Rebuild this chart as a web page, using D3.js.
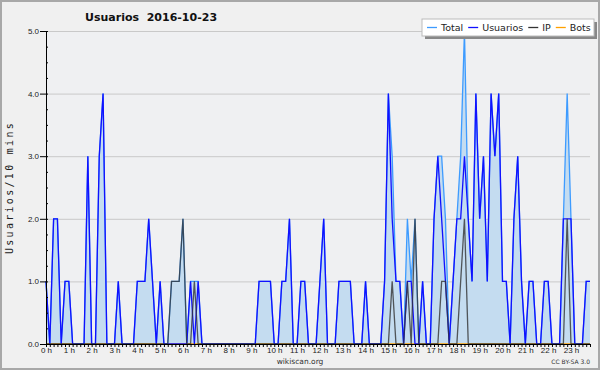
<!DOCTYPE html>
<html lang="es">
<head>
  <meta charset="UTF-8">
  <title>Usuarios 2016-10-23</title>
  <script src="https://d3js.org/d3.v7.min.js"></script>
  <style type="text/css">
    body { margin: 0; background: #f0f0f0; }
    svg { display: block; font-family: "DejaVu Sans", Verdana, sans-serif; }
  </style>
</head>
<body>
<svg id="grafico"></svg>

<script>
  // valores cada 10 minutos (0h00 .. 23h50)
  const usuarios = [
    1,0,2,2,0,1,1,0,0,0,0,3,
    0,0,3,4,0,0,0,1,0,0,0,0,
    1,1,1,2,1,0,1,0,0,0,0,0,
    0,0,1,0,1,0,0,0,0,0,0,0,
    0,0,0,0,0,0,0,0,1,1,1,1,
    0,0,1,1,2,0,0,1,1,0,0,0,
    1,2,0,0,0,1,1,1,1,0,0,0,
    1,0,0,0,0,1,4,2,1,1,0,1,
    1,0,0,1,0,0,2,3,2,1,0,1,
    2,2,3,2,1,4,2,3,1,4,3,4,
    1,1,0,2,3,1,0,1,1,0,0,1,
    1,0,0,0,2,2,2,0,0,0,1,1
  ];
  const ip = [
    0,0,0,0,0,0,0,0,0,0,0,0,
    0,0,0,0,0,0,0,0,0,0,0,0,
    0,0,0,0,0,0,0,0,0,1,1,1,
    2,0,0,1,0,0,0,0,0,0,0,0,
    0,0,0,0,0,0,0,0,0,0,0,0,
    0,0,0,0,0,0,0,0,0,0,0,0,
    0,0,0,0,0,0,0,0,0,0,0,0,
    0,0,0,0,0,0,0,1,0,0,0,1,
    0,2,0,0,0,0,0,0,1,1,0,0,
    0,1,2,0,0,0,0,0,0,0,0,0,
    0,0,0,0,0,0,0,0,0,0,0,0,
    0,0,0,0,0,2,0,0,0,0,0,0
  ];
  const bots = new Array(144).fill(0);
  const total = [
    1,0,2,2,0,1,1,0,0,0,0,3,
    0,0,3,4,0,0,0,1,0,0,0,0,
    1,1,1,2,1,0,1,0,0,1,1,1,
    2,0,1,1,1,0,0,0,0,0,0,0,
    0,0,0,0,0,0,0,0,1,1,1,1,
    0,0,1,1,2,0,0,1,1,0,0,0,
    1,2,0,0,0,1,1,1,1,0,0,0,
    1,0,0,0,0,1,4,3,1,1,0,2,
    1,2,0,1,0,0,2,3,3,2,0,1,
    2,3,5,2,1,4,2,3,1,4,3,4,
    1,1,0,2,3,1,0,1,1,0,0,1,
    1,0,0,0,2,4,2,0,0,0,1,1
  ];
  const yTicks = [0, 1, 2, 3, 4, 5];
  const legenda = ["Total", "Usuarios", "IP", "Bots"];
  const cores = ["#3d9bff", "#1010ff", "#333333", "#ffa000"];

  const largura = 600;
  const altura = 370;
  const margem = { topo: 31, direita: 10, inferior: 26, esquerda: 46 };

  const svg = d3.select("#grafico")
      .attr("width", largura)
      .attr("height", altura);

  // fundo e borda
  svg.append("rect")
      .attr("x", 1).attr("y", 1)
      .attr("width", largura - 2).attr("height", altura - 2)
      .attr("fill", "#f0f0f0")
      .attr("stroke", "#a8a8a8")
      .attr("stroke-width", 2);

  const escalaX = d3.scaleLinear()
      .domain([0, 143])
      .range([margem.esquerda, largura - margem.direita]);

  const escalaY = d3.scaleLinear()
      .domain([0, 5])
      .range([altura - margem.inferior, margem.topo]);

  // area do grafico
  svg.append("rect")
      .attr("x", escalaX(0)).attr("y", escalaY(5))
      .attr("width", escalaX(143) - escalaX(0))
      .attr("height", escalaY(0) - escalaY(5))
      .attr("fill", "#eff0f2");

  // linhas de grade
  svg.append("g")
      .selectAll("line")
      .data(yTicks.filter(d => d > 0))
      .enter().append("line")
      .attr("x1", escalaX(0)).attr("x2", escalaX(143))
      .attr("y1", d => escalaY(d) + 0.5).attr("y2", d => escalaY(d) + 0.5)
      .attr("stroke", "#c9c9c9");

  const idx = d3.range(144);

  // area + linhas
  const area = d3.area()
      .x(i => escalaX(i))
      .y0(escalaY(0))
      .y1(i => escalaY(total[i]));

  svg.append("path")
      .datum(idx)
      .attr("d", area)
      .attr("fill", "#c4dcf0");

  function linha(serie, cor, opac) {
    const gerador = d3.line()
        .x(i => escalaX(i))
        .y(i => escalaY(serie[i]));
    svg.append("path")
        .datum(idx)
        .attr("d", gerador)
        .attr("fill", "none")
        .attr("stroke", cor)
        .attr("stroke-opacity", opac)
        .attr("stroke-width", 1.3);
  }

  linha(bots, cores[3], 1);
  linha(total, cores[0], 1);
  linha(usuarios, cores[1], 1);
  linha(ip, cores[2], 0.8);

  // eixo X
  const eixoX = d3.axisBottom(escalaX)
      .tickValues(idx)
      .tickSize(3)
      .tickSizeOuter(0)
      .tickPadding(0)
      .tickFormat(i => i % 6 === 0 ? (i / 6) + " h" : "");

  const gX = svg.append("g")
      .attr("transform", `translate(0, ${escalaY(0)})`)
      .call(eixoX);
  gX.selectAll("text").attr("font-size", 8).attr("fill", "#222");
  gX.selectAll("line, path").attr("stroke", "#000");

  // eixo Y (ticks menores por dentro)
  svg.append("g")
      .attr("transform", `translate(${escalaX(0)}, 0)`)
      .call(d3.axisRight(escalaY).tickValues(d3.range(0, 5.01, 0.25)).tickSize(2).tickSizeOuter(0).tickFormat(""))
      .selectAll("line, path").attr("stroke", "#000");

  const gY = svg.append("g")
      .attr("transform", `translate(${escalaX(0)}, 0)`)
      .call(d3.axisLeft(escalaY).tickValues(yTicks).tickSize(6).tickSizeOuter(0).tickPadding(1).tickFormat(d3.format(".1f")));
  gY.selectAll("text").attr("font-size", 8).attr("fill", "#222");
  gY.selectAll("line, path").attr("stroke", "#000");

  // titulo
  svg.append("text")
      .attr("x", 85).attr("y", 21)
      .attr("font-size", 11)
      .attr("font-weight", "bold")
      .attr("fill", "#111")
      .attr("xml:space", "preserve")
      .text("Usuarios  2016-10-23");

  // rotulo Y
  svg.append("text")
      .attr("transform", `translate(13, ${(escalaY(0) + escalaY(5)) / 2}) rotate(-90)`)
      .attr("text-anchor", "middle")
      .attr("font-family", "DejaVu Sans Mono, monospace")
      .attr("font-size", 10)
      .attr("letter-spacing", 2.3)
      .attr("fill", "#222")
      .text("Usuarios/10 mins");

  // rodape
  svg.append("text")
      .attr("x", 300).attr("y", 364)
      .attr("text-anchor", "middle")
      .attr("font-size", 7.5)
      .attr("fill", "#333")
      .text("wikiscan.org");

  svg.append("text")
      .attr("x", 590).attr("y", 364)
      .attr("text-anchor", "end")
      .attr("font-size", 6)
      .attr("fill", "#333")
      .text("CC BY-SA 3.0");

  // legenda
  const leg = svg.append("g");
  leg.append("rect")
      .attr("x", 425).attr("y", 22).attr("width", 172).attr("height", 17)
      .attr("fill", "#888");
  leg.append("rect")
      .attr("x", 422).attr("y", 19).attr("width", 172).attr("height", 17)
      .attr("fill", "#fff")
      .attr("stroke", "#bbb");

  let posX = 427;
  legenda.forEach(function(nome, k) {
    leg.append("line")
        .attr("x1", posX).attr("x2", posX + 10)
        .attr("y1", 27.5).attr("y2", 27.5)
        .attr("stroke", cores[k])
        .attr("stroke-width", 1.3);
    const t = leg.append("text")
        .attr("x", posX + 14).attr("y", 31)
        .attr("font-size", 9.5)
        .attr("fill", "#222")
        .text(nome);
    posX += 14 + t.node().getComputedTextLength() + 5;
  });
</script>
</body>
</html>
